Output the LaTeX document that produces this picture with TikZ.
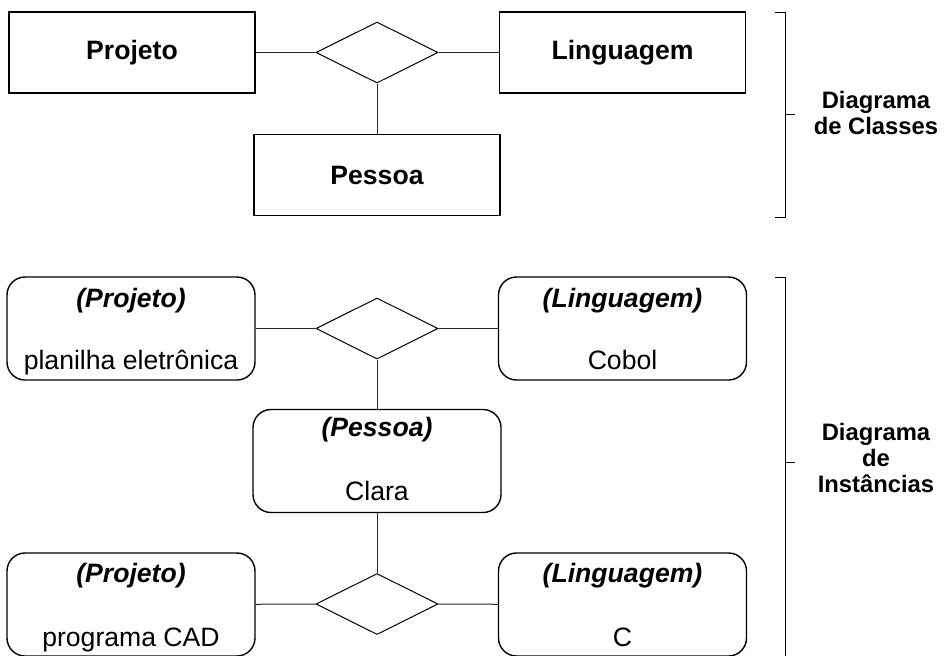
\documentclass[tikz,border=0pt]{standalone}
\usepackage{fontspec}
\setmainfont{Liberation Sans}
\usetikzlibrary{shapes.geometric}
\tikzset{every node/.style={font=\fontsize{13.3}{15}\selectfont}}
\colorlet{linecol}{black}
\colorlet{wirecol}{black!85!white}

\begin{document}
\begin{tikzpicture}[x=0.5pt, y=-0.5pt,
  clsbox/.style={draw=linecol, line width=0.7pt, minimum width=123pt,
    minimum height=40.5pt, inner sep=0pt, font=\fontsize{13.3}{15}\selectfont\bfseries},
  instbox/.style={draw=linecol, line width=0.7pt, rounded corners=9pt,
    minimum width=124pt, minimum height=51.5pt, inner sep=0pt},
  relbox/.style={diamond, draw=linecol, line width=0.5pt, aspect=2,
    minimum width=61pt, minimum height=30.5pt, inner sep=0pt},
  ttl/.style={anchor=base, inner sep=0pt, font=\fontsize{13.3}{15}\selectfont\bfseries\itshape},
  nm/.style={anchor=base, inner sep=0pt},
  grouplbl/.style={align=center, font=\fontsize{11.9}{13}\selectfont\bfseries},
  wire/.style={draw=wirecol, line width=0.5pt}]

  \useasboundingbox (0,0) rectangle (948,655);

  % Class diagram.
  \node[clsbox] (cproj) at (132,52.5) {Projeto};
  \node[clsbox] (cling) at (622.5,52.5) {Linguagem};
  \node[clsbox] (cpes)  at (377,175) {Pessoa};
  \node[relbox] (crel)  at (377,52.5) {};

  \draw[wire] (cproj) -- (crel);
  \draw[wire] (crel) -- (cling);
  \draw[wire] (crel) -- (cpes);

  % Instance diagram -- first link.
  \node[instbox] (iproj1) at (131,328.5) {};
  \node[ttl] (iproj1t) at ([yshift=-15.5pt]iproj1.north) {(Projeto)};
  \node[nm]  (iproj1n) at ([yshift=-46.5pt]iproj1.north) {planilha eletrônica};

  \node[instbox] (iling1) at (622.5,328.5) {};
  \node[ttl] (iling1t) at ([yshift=-15.5pt]iling1.north) {(Linguagem)};
  \node[nm]  (iling1n) at ([yshift=-46.5pt]iling1.north) {Cobol};

  \node[relbox] (irel1) at (377,328.5) {};

  % Instance diagram -- person.
  \node[instbox] (ipes) at (377,461) {};
  \node[ttl] (ipest) at ([yshift=-14pt]ipes.north) {(Pessoa)};
  \node[nm]  (ipesn) at ([yshift=-46pt]ipes.north) {Clara};

  % Instance diagram -- second link.
  \node[instbox] (iproj2) at (131,604.5) {};
  \node[ttl] (iproj2t) at ([yshift=-15pt]iproj2.north) {(Projeto)};
  \node[nm]  (iproj2n) at ([yshift=-47pt]iproj2.north) {programa CAD};

  \node[instbox] (iling2) at (622.5,604.5) {};
  \node[ttl] (iling2t) at ([yshift=-15pt]iling2.north) {(Linguagem)};
  \node[nm]  (iling2n) at ([yshift=-47pt]iling2.north) {C};

  \node[relbox] (irel2) at (377,604) {};

  \draw[wire] (iproj1) -- (irel1);
  \draw[wire] (irel1) -- (iling1);
  \draw[wire] (irel1) -- (ipes);
  \draw[wire] (ipes) -- (irel2);
  \draw[wire] (iproj2) -- (irel2);
  \draw[wire] (irel2) -- (iling2);

  % Brackets.
  \draw[linecol, line width=0.5pt] (775,12) -- (785,12) -- (785,217) -- (775,217);
  \draw[linecol, line width=0.5pt] (785,114) -- (795,114);
  \node[grouplbl] (lblcls) at (876,113) {Diagrama\\de Classes};

  \draw[linecol, line width=0.5pt] (775,277) -- (785,277) -- (785,665);
  \draw[linecol, line width=0.5pt] (785,462) -- (795,462);
  \node[grouplbl] (lblinst) at (876,458) {Diagrama\\de\\Instâncias};

\end{tikzpicture}
\end{document}
